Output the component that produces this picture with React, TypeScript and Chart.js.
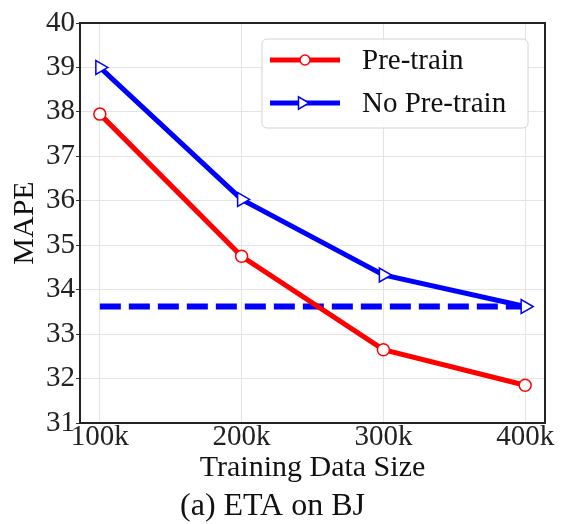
import React, { useEffect, useRef } from "react";
import { Chart, registerables } from "chart.js";

Chart.register(...registerables);

// Training data sizes (in thousands of samples)
const trainingSizes = [100, 200, 300, 400];
// MAPE for each training data size
const preTrainMape = [37.95, 34.75, 32.65, 31.85];
const noPreTrainMape = [39.0, 36.03, 34.33, 33.62];
// MAPE of the model trained without pre-training on the full data set
const fullDataMape = 33.62;

const yTicks = [31, 32, 33, 34, 35, 36, 37, 38, 39, 40];

const SERIF = "'Liberation Serif', 'DejaVu Serif', 'Times New Roman', serif";

const framePlugin = {
  id: "frameBox",
  afterDraw(chart: any) {
    const { ctx, chartArea: a } = chart;
    ctx.save();
    ctx.strokeStyle = "#222";
    ctx.lineWidth = 2;
    ctx.strokeRect(a.left, a.top, a.right - a.left, a.bottom - a.top);
    ctx.restore();
  },
};

const legendPlugin = {
  id: "boxLegend",
  afterDatasetsDraw(chart: any) {
    const { ctx, chartArea: a } = chart;
    const entries = chart.data.datasets.filter((d: any) => !d.hideInLegend);
    const w = 266;
    const h = 89;
    const x = a.right - 17 - w;
    const y = a.top + 16;
    ctx.save();
    ctx.beginPath();
    ctx.roundRect(x, y, w, h, 5);
    ctx.fillStyle = "rgba(255,255,255,0.9)";
    ctx.fill();
    ctx.strokeStyle = "#d4d4d4";
    ctx.lineWidth = 1;
    ctx.stroke();
    entries.forEach((d: any, i: number) => {
      const cy = y + 21 + i * 43;
      ctx.beginPath();
      ctx.moveTo(x + 8, cy);
      ctx.lineTo(x + 78, cy);
      ctx.strokeStyle = d.borderColor;
      ctx.lineWidth = 5;
      ctx.stroke();
      ctx.beginPath();
      if (d.pointStyle === "triangle") {
        const r = 7;
        const cx = x + 40;
        ctx.moveTo(cx + r, cy);
        ctx.lineTo(cx - r * 0.5, cy - r * 0.87);
        ctx.lineTo(cx - r * 0.5, cy + r * 0.87);
        ctx.closePath();
      } else {
        ctx.arc(x + 43, cy, 5, 0, Math.PI * 2);
      }
      ctx.fillStyle = "#fff";
      ctx.fill();
      ctx.lineWidth = 1.5;
      ctx.strokeStyle = d.borderColor;
      ctx.stroke();
      ctx.fillStyle = "#111";
      ctx.font = `29px ${SERIF}`;
      ctx.textBaseline = "middle";
      ctx.textAlign = "left";
      ctx.fillText(d.label, x + 100, cy + 1);
    });
    ctx.restore();
  },
};

export default function App() {
  const canvasRef = useRef<HTMLCanvasElement | null>(null);

  useEffect(() => {
    const canvas = canvasRef.current;
    if (!canvas) return;
    const chart = new Chart(canvas, {
      type: "line",
      data: {
        datasets: [
          {
            label: "Pre-train",
            data: trainingSizes.map((s, i) => ({ x: s, y: preTrainMape[i] })),
            borderColor: "#ff0000",
            borderWidth: 5,
            pointStyle: "circle",
            pointRadius: 6,
            pointBorderWidth: 1.5,
            pointBackgroundColor: "#fff",
            pointBorderColor: "#ff0000",
          },
          {
            label: "No Pre-train",
            data: trainingSizes.map((s, i) => ({ x: s, y: noPreTrainMape[i] })),
            borderColor: "#0000ff",
            borderWidth: 5,
            pointStyle: "triangle",
            pointRotation: 90,
            pointRadius: 8,
            pointBorderWidth: 1.5,
            pointBackgroundColor: "#fff",
            pointBorderColor: "#0000ff",
          },
          {
            label: "Full data",
            hideInLegend: true,
            data: [
              { x: trainingSizes[0], y: fullDataMape },
              { x: trainingSizes[trainingSizes.length - 1], y: fullDataMape },
            ],
            borderColor: "#0000ff",
            borderWidth: 6,
            borderDash: [21, 8],
            pointRadius: 0,
          } as any,
        ],
      },
      options: {
        animation: false,
        responsive: false,
        maintainAspectRatio: false,
        layout: { padding: { left: 0, right: 17, top: 23, bottom: 0 } },
        plugins: {
          legend: { display: false },
          tooltip: { enabled: false },
          title: {
            display: true,
            position: "bottom",
            text: "(a) ETA on BJ",
            color: "#111",
            font: { family: SERIF, size: 32, weight: "normal", lineHeight: 1 },
            padding: { top: 0, bottom: 1 },
          },
        },
        scales: {
          x: {
            type: "linear",
            min: 86,
            max: 414,
            afterBuildTicks: (s: any) => {
              s.ticks = trainingSizes.map((v) => ({ value: v }));
            },
            afterFit: (s: any) => {
              s.height = 68;
            },
            border: { display: false },
            grid: { color: "#e4e4e4", lineWidth: 1, tickLength: 0 },
            ticks: {
              color: "#222",
              padding: 0,
              maxRotation: 0,
              font: { family: SERIF, size: 29, lineHeight: 1 },
              callback: (v: any) => `${v}k`,
            },
            title: {
              display: true,
              text: "Training Data Size",
              color: "#111",
              font: { family: SERIF, size: 30, lineHeight: 1 },
              padding: { top: 0, bottom: 8 },
            },
          },
          y: {
            min: 31,
            max: 40,
            afterBuildTicks: (s: any) => {
              s.ticks = yTicks.map((v) => ({ value: v }));
            },
            afterFit: (s: any) => {
              s.width = 80;
            },
            border: { display: false },
            grid: { color: "#e4e4e4", lineWidth: 1, tickLength: 4, tickColor: "#333" },
            ticks: {
              color: "#222",
              padding: 1,
              font: { family: SERIF, size: 29, lineHeight: 1 },
            },
            title: {
              display: true,
              text: "MAPE",
              color: "#111",
              font: { family: SERIF, size: 30, lineHeight: 1 },
              padding: { top: 10, bottom: 0 },
            },
          },
        },
      },
      plugins: [framePlugin, legendPlugin],
    });
    return () => chart.destroy();
  }, []);

  return (
    <div style={{ position: "fixed", left: 0, top: 0, width: 562, height: 524, background: "#fff" }}>
      <canvas ref={canvasRef} width={562} height={524} />
    </div>
  );
}
